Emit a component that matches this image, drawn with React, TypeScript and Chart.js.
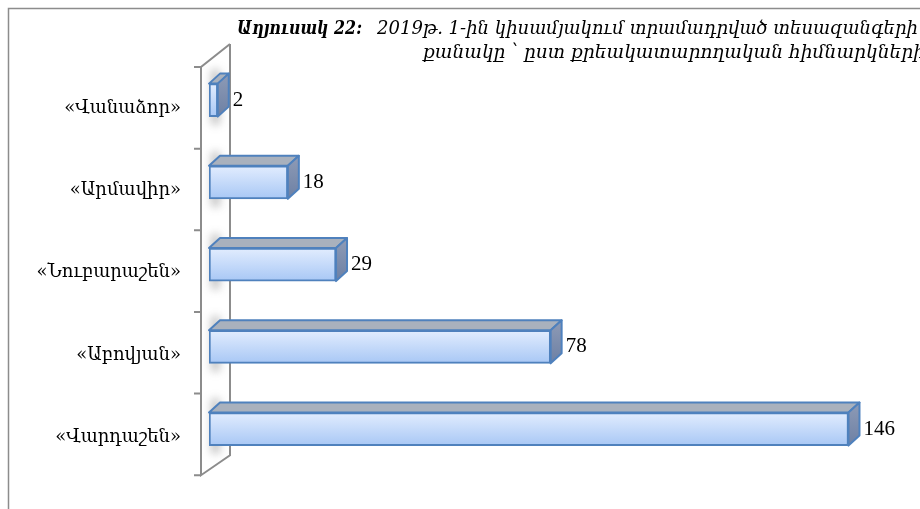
import React, { useEffect, useRef } from "react";
import { Chart, registerables } from "chart.js";

Chart.register(...registerables);

const categories = ["«Վանաձոր»", "«Արմավիր»", "«Նուբարաշեն»", "«Աբովյան»", "«Վարդաշեն»"];
const values = [2, 18, 29, 78, 146];
const titleBold = "Աղյուսակ 22:";
const titleLine1 = "2019թ. 1-ին կիսամյակում տրամադրված տեսազանգերի";
const titleLine2 = "քանակը ՝ ըստ քրեակատարողական հիմնարկների";

const FONT = "'DejaVu Serif', 'Liberation Serif', serif";
const DX = 11;
const DY = 10;

function fitText(ctx: any, text: string, x: number, y: number, w: number) {
  const m = ctx.measureText(text).width;
  const s = w / m;
  ctx.save();
  ctx.translate(x, y);
  ctx.scale(s, 1);
  ctx.fillText(text, 0, 0);
  ctx.restore();
}

const threeD = {
  id: "threeD",
  beforeDraw(chart: any) {
    const ctx = chart.ctx;
    ctx.save();
    ctx.fillStyle = "#ffffff";
    ctx.fillRect(0, 0, chart.width, chart.height);
    ctx.strokeStyle = "#8c8c8c";
    ctx.lineWidth = 1.5;
    ctx.beginPath();
    ctx.moveTo(8.5, chart.height);
    ctx.lineTo(8.5, 8.5);
    ctx.lineTo(chart.width, 8.5);
    ctx.stroke();
    // title
    ctx.fillStyle = "#000";
    ctx.textBaseline = "alphabetic";
    ctx.font = `italic bold 19px ${FONT}`;
    fitText(ctx, titleBold, 237, 34, 125);
    ctx.font = `italic 18.5px ${FONT}`;
    fitText(ctx, titleLine1, 377, 34, 541);
    fitText(ctx, titleLine2, 423, 58, 502);
    ctx.restore();
  },
  beforeDatasetsDraw(chart: any) {
    const ctx = chart.ctx;
    const { left, top, bottom } = chart.chartArea;
    const fx = left - 8;
    const bx = fx + 29;
    const ft = top + 8;
    const fb = bottom + 5;
    ctx.save();
    // soft shadows on back wall
    const meta = chart.getDatasetMeta(0);
    ctx.filter = "blur(4px)";
    ctx.fillStyle = "rgba(70,70,70,0.32)";
    meta.data.forEach((bar: any) => {
      const t = bar.y - bar.height / 2;
      const b = bar.y + bar.height / 2;
      ctx.fillRect(left + 2, t - 14, 9, b - t + 22);
    });
    ctx.filter = "none";
    ctx.strokeStyle = "#8c8c8c";
    ctx.lineWidth = 2;
    ctx.beginPath();
    ctx.moveTo(bx, ft - 23);
    ctx.lineTo(bx, fb - 20);
    ctx.lineTo(fx, fb);
    ctx.lineTo(fx, ft);
    ctx.lineTo(bx, ft - 23);
    ctx.stroke();
    // ticks at category boundaries
    const n = categories.length;
    const step = (fb - ft) / n;
    ctx.beginPath();
    for (let i = 0; i <= n; i++) {
      const y = ft + step * i;
      ctx.moveTo(fx - 7, y);
      ctx.lineTo(fx, y);
    }
    ctx.stroke();
    ctx.restore();
  },
  afterDatasetsDraw(chart: any) {
    const ctx = chart.ctx;
    const meta = chart.getDatasetMeta(0);
    ctx.save();
    meta.data.forEach((bar: any, i: number) => {
      const x0 = bar.base;
      const x1 = bar.x;
      const t = bar.y - bar.height / 2;
      const b = bar.y + bar.height / 2;
      ctx.lineJoin = "round";
      ctx.strokeStyle = "#4f81bd";
      ctx.lineWidth = 2;
      // top face
      ctx.beginPath();
      ctx.moveTo(x0, t);
      ctx.lineTo(x0 + DX, t - DY);
      ctx.lineTo(x1 + DX, t - DY);
      ctx.lineTo(x1, t);
      ctx.closePath();
      ctx.fillStyle = "#a9b1bd";
      ctx.fill();
      ctx.stroke();
      // side face
      const g = ctx.createLinearGradient(0, t - DY, 0, b);
      g.addColorStop(0, "#8e9bb6");
      g.addColorStop(1, "#6d80a4");
      ctx.beginPath();
      ctx.moveTo(x1, t);
      ctx.lineTo(x1 + DX, t - DY);
      ctx.lineTo(x1 + DX, b - DY);
      ctx.lineTo(x1, b);
      ctx.closePath();
      ctx.fillStyle = g;
      ctx.fill();
      ctx.stroke();
      // value label
      ctx.fillStyle = "#000";
      ctx.font = `21px 'Liberation Serif', ${FONT}`;
      ctx.textBaseline = "middle";
      ctx.textAlign = "left";
      ctx.fillText(String(values[i]), x1 + DX + 4, bar.y);
    });
    ctx.restore();
  },
};

export default function App() {
  const ref = useRef<HTMLCanvasElement>(null);
  useEffect(() => {
    const canvas = ref.current!;
    const chart = new Chart(canvas, {
      type: "bar",
      data: {
        labels: categories,
        datasets: [
          {
            data: values,
            barThickness: 33,
            borderWidth: 2,
            borderColor: "#4f81bd",
            borderSkipped: false,
            backgroundColor: (c: any) => {
              const ch = c.chart;
              if (!ch.chartArea || c.dataIndex === undefined) return "#c6dbfa";
              const y = ch.scales.y.getPixelForValue(c.dataIndex);
              const g = ch.ctx.createLinearGradient(0, y - 16, 0, y + 16);
              g.addColorStop(0, "#e1ecfe");
              g.addColorStop(1, "#a9c8f5");
              return g;
            },
          },
        ],
      },
      options: {
        indexAxis: "y",
        animation: false,
        responsive: false,
        events: [],
        layout: { padding: { top: 59, bottom: 37, left: 0, right: 54 } },
        plugins: { legend: { display: false }, tooltip: { enabled: false }, title: { display: false } },
        scales: {
          x: { display: false, min: 0, max: 150 },
          y: {
            afterFit: (s: any) => {
              s.width = 209;
            },
            grid: { display: false, drawTicks: false },
            border: { display: false },
            ticks: {
              padding: 28,
              labelOffset: 8,
              color: "#000",
              font: { family: FONT, size: 18 },
            },
          },
        },
      },
      plugins: [threeD],
    } as any);
    return () => chart.destroy();
  }, []);
  return (
    <div style={{ position: "fixed", left: 0, top: 0, width: 920, height: 509, background: "#fff" }}>
      <canvas ref={ref} width={920} height={509} style={{ width: 920, height: 509, display: "block" }} />
    </div>
  );
}
